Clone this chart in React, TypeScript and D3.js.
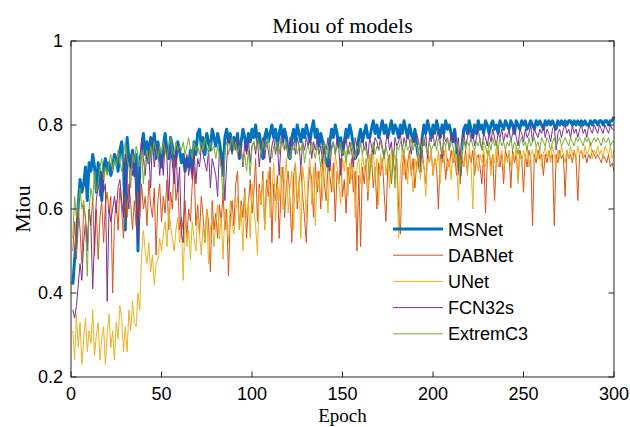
import * as d3 from "d3";

const msnet = [
  0.42, 0.48, 0.53, 0.61, 0.67, 0.64, 0.66, 0.70, 0.62, 0.71,
  0.69, 0.73, 0.70, 0.64, 0.71, 0.68, 0.62, 0.70, 0.72, 0.69,
  0.71, 0.68, 0.70, 0.73, 0.72, 0.69, 0.74, 0.76, 0.71, 0.55,
  0.77, 0.72, 0.70, 0.74, 0.68, 0.73, 0.50, 0.71, 0.74, 0.78,
  0.73, 0.76, 0.71, 0.77, 0.74, 0.78, 0.72, 0.76, 0.73, 0.70,
  0.75, 0.78, 0.74, 0.72, 0.77, 0.75, 0.70, 0.72, 0.76, 0.74,
  0.71, 0.73, 0.69, 0.72, 0.70, 0.74, 0.69, 0.76, 0.73, 0.78,
  0.79, 0.75, 0.77, 0.73, 0.78, 0.76, 0.74, 0.79, 0.77, 0.75,
  0.78, 0.76, 0.73, 0.68, 0.77, 0.79, 0.76, 0.78, 0.74, 0.77,
  0.75, 0.78, 0.72, 0.76, 0.79, 0.77, 0.74, 0.78, 0.76, 0.79,
  0.77, 0.80, 0.76, 0.78, 0.75, 0.72, 0.77, 0.79, 0.76, 0.78,
  0.80, 0.77, 0.79, 0.75, 0.78, 0.80, 0.76, 0.79, 0.77, 0.74,
  0.72, 0.77, 0.79, 0.76, 0.80, 0.78, 0.76, 0.79, 0.77, 0.80,
  0.78, 0.76, 0.79, 0.81, 0.77, 0.79, 0.75, 0.78, 0.76, 0.73,
  0.71, 0.70, 0.76, 0.79, 0.77, 0.80, 0.78, 0.75, 0.77, 0.73,
  0.76, 0.79, 0.77, 0.80, 0.78, 0.75, 0.72, 0.73, 0.77, 0.79,
  0.76, 0.78, 0.80, 0.77, 0.77, 0.79, 0.81, 0.78, 0.80, 0.77,
  0.79, 0.81, 0.78, 0.80, 0.77, 0.79, 0.81, 0.78, 0.80, 0.79,
  0.77, 0.80, 0.78, 0.81, 0.79, 0.77, 0.80, 0.78, 0.76, 0.79,
  0.75, 0.72, 0.69, 0.77, 0.80, 0.78, 0.81, 0.79, 0.77, 0.80,
  0.78, 0.81, 0.79, 0.77, 0.80, 0.78, 0.81, 0.79, 0.80, 0.78,
  0.76, 0.79, 0.74, 0.71, 0.68, 0.75, 0.79, 0.80, 0.78, 0.81,
  0.79, 0.77, 0.80, 0.78, 0.81, 0.79, 0.80, 0.78, 0.81, 0.80,
  0.78, 0.80, 0.81, 0.79, 0.80, 0.78, 0.81, 0.80, 0.79, 0.81,
  0.80, 0.79, 0.81, 0.80, 0.78, 0.81, 0.80, 0.79, 0.81, 0.80,
  0.81, 0.79, 0.80, 0.81, 0.80, 0.79, 0.81, 0.80, 0.81, 0.80,
  0.79, 0.81, 0.80, 0.81, 0.80, 0.81, 0.80, 0.79, 0.81, 0.80,
  0.81, 0.80, 0.81, 0.80, 0.81, 0.81, 0.80, 0.81, 0.80, 0.81,
  0.80, 0.81, 0.80, 0.81, 0.80, 0.80, 0.81, 0.80, 0.81, 0.81,
  0.80, 0.81, 0.81, 0.80, 0.81, 0.81, 0.80, 0.81, 0.81, 0.82,
];

const dabnet = [
  0.50, 0.57, 0.48, 0.60, 0.55, 0.47, 0.61, 0.58, 0.52, 0.60,
  0.56, 0.63, 0.49, 0.60, 0.48, 0.58, 0.62, 0.52, 0.61, 0.64,
  0.59, 0.63, 0.40, 0.57, 0.62, 0.55, 0.65, 0.60, 0.53, 0.63,
  0.58, 0.66, 0.61, 0.55, 0.62, 0.56, 0.64, 0.58, 0.66, 0.60,
  0.63, 0.56, 0.67, 0.61, 0.58, 0.65, 0.49, 0.62, 0.66, 0.57,
  0.63, 0.59, 0.67, 0.55, 0.64, 0.60, 0.72, 0.62, 0.66, 0.55,
  0.58, 0.55, 0.62, 0.53, 0.60, 0.57, 0.66, 0.70, 0.56, 0.61,
  0.54, 0.63, 0.58, 0.52, 0.60, 0.57, 0.45, 0.62, 0.55, 0.59,
  0.53, 0.61, 0.57, 0.64, 0.55, 0.60, 0.44, 0.58, 0.62, 0.56,
  0.66, 0.69, 0.55, 0.62, 0.58, 0.65, 0.53, 0.61, 0.67, 0.59,
  0.64, 0.72, 0.57, 0.66, 0.61, 0.69, 0.55, 0.67, 0.63, 0.70,
  0.52, 0.66, 0.62, 0.68, 0.53, 0.64, 0.70, 0.58, 0.66, 0.69,
  0.62, 0.52, 0.68, 0.71, 0.60, 0.66, 0.70, 0.63, 0.58, 0.52,
  0.65, 0.70, 0.67, 0.58, 0.71, 0.64, 0.69, 0.60, 0.72, 0.66,
  0.62, 0.70, 0.68, 0.64, 0.71, 0.57, 0.69, 0.66, 0.72, 0.63,
  0.67, 0.59, 0.70, 0.66, 0.72, 0.64, 0.69, 0.50, 0.68, 0.51,
  0.70, 0.66, 0.72, 0.62, 0.69, 0.73, 0.65, 0.70, 0.60, 0.71,
  0.68, 0.72, 0.64, 0.57, 0.70, 0.73, 0.66, 0.71, 0.69, 0.72,
  0.60, 0.54, 0.70, 0.73, 0.67, 0.71, 0.74, 0.68, 0.72, 0.65,
  0.71, 0.73, 0.69, 0.74, 0.70, 0.66, 0.73, 0.71, 0.74, 0.68,
  0.72, 0.70, 0.60, 0.73, 0.71, 0.74, 0.67, 0.72, 0.70, 0.74,
  0.71, 0.73, 0.68, 0.74, 0.66, 0.72, 0.70, 0.74, 0.69, 0.73,
  0.71, 0.74, 0.68, 0.72, 0.73, 0.70, 0.66, 0.73, 0.59, 0.72,
  0.74, 0.70, 0.73, 0.62, 0.72, 0.74, 0.70, 0.73, 0.66, 0.74,
  0.72, 0.73, 0.65, 0.74, 0.71, 0.73, 0.67, 0.74, 0.72, 0.64,
  0.73, 0.70, 0.74, 0.72, 0.56, 0.73, 0.71, 0.74, 0.72, 0.73,
  0.68, 0.73, 0.71, 0.74, 0.72, 0.73, 0.56, 0.73, 0.71, 0.74,
  0.72, 0.73, 0.63, 0.74, 0.72, 0.73, 0.71, 0.74, 0.72, 0.62,
  0.73, 0.74, 0.72, 0.73, 0.71, 0.73, 0.72, 0.74, 0.73, 0.72,
  0.73, 0.72, 0.71, 0.73, 0.72, 0.71, 0.73, 0.70, 0.71, 0.69,
];

const unet = [
  0.31, 0.24, 0.35, 0.27, 0.33, 0.23, 0.29, 0.34, 0.26, 0.31,
  0.28, 0.36, 0.25, 0.30, 0.33, 0.24, 0.29, 0.32, 0.23, 0.30,
  0.35, 0.27, 0.31, 0.24, 0.33, 0.29, 0.37, 0.34, 0.26, 0.32,
  0.26, 0.36, 0.31, 0.38, 0.33, 0.32, 0.40, 0.36, 0.49, 0.55,
  0.50, 0.47, 0.52, 0.45, 0.49, 0.42, 0.47, 0.48, 0.53, 0.50,
  0.54, 0.57, 0.51, 0.60, 0.56, 0.53, 0.50, 0.55, 0.58, 0.52,
  0.56, 0.43, 0.58, 0.51, 0.55, 0.48, 0.57, 0.53, 0.50, 0.59,
  0.54, 0.49, 0.56, 0.52, 0.60, 0.47, 0.55, 0.58, 0.51, 0.57,
  0.61, 0.53, 0.58, 0.48, 0.60, 0.56, 0.52, 0.62, 0.57, 0.54,
  0.59, 0.63, 0.55, 0.61, 0.50, 0.64, 0.58, 0.62, 0.53, 0.66,
  0.60, 0.56, 0.49, 0.65, 0.61, 0.67, 0.55, 0.63, 0.69, 0.58,
  0.64, 0.71, 0.57, 0.66, 0.62, 0.70, 0.60, 0.67, 0.72, 0.59,
  0.65, 0.69, 0.55, 0.71, 0.62, 0.67, 0.53, 0.70, 0.66, 0.58,
  0.68, 0.72, 0.61, 0.70, 0.56, 0.69, 0.65, 0.71, 0.62, 0.73,
  0.67, 0.59, 0.72, 0.69, 0.64, 0.73, 0.70, 0.66, 0.61, 0.72,
  0.69, 0.74, 0.63, 0.71, 0.67, 0.73, 0.58, 0.70, 0.72, 0.66,
  0.74, 0.69, 0.72, 0.64, 0.73, 0.70, 0.75, 0.67, 0.72, 0.61,
  0.73, 0.70, 0.74, 0.68, 0.72, 0.65, 0.74, 0.71, 0.73, 0.69,
  0.53, 0.70, 0.74, 0.68, 0.72, 0.66, 0.73, 0.70, 0.64, 0.72,
  0.69, 0.74, 0.67, 0.72, 0.70, 0.63, 0.73, 0.71, 0.74, 0.68,
  0.72, 0.70, 0.74, 0.66, 0.73, 0.71, 0.75, 0.69, 0.72, 0.67,
  0.74, 0.71, 0.73, 0.62, 0.72, 0.74, 0.70, 0.73, 0.68, 0.75,
  0.71, 0.60, 0.74, 0.72, 0.69, 0.73, 0.71, 0.75, 0.70, 0.72,
  0.74, 0.68, 0.73, 0.71, 0.75, 0.70, 0.72, 0.74, 0.69, 0.73,
  0.71, 0.74, 0.70, 0.73, 0.72, 0.75, 0.66, 0.73, 0.71, 0.74,
  0.72, 0.75, 0.70, 0.73, 0.74, 0.71, 0.75, 0.72, 0.74, 0.70,
  0.73, 0.75, 0.72, 0.74, 0.71, 0.75, 0.73, 0.70, 0.74, 0.72,
  0.75, 0.73, 0.71, 0.74, 0.72, 0.75, 0.73, 0.74, 0.71, 0.75,
  0.73, 0.74, 0.72, 0.75, 0.73, 0.74, 0.76, 0.72, 0.74, 0.73,
  0.75, 0.73, 0.74, 0.72, 0.75, 0.74, 0.73, 0.75, 0.72, 0.74,
];

const fcn32s = [
  0.36, 0.34, 0.37, 0.42, 0.47, 0.43, 0.52, 0.57, 0.50, 0.60,
  0.56, 0.41, 0.53, 0.62, 0.66, 0.63, 0.69, 0.64, 0.66, 0.38,
  0.60, 0.57, 0.60, 0.63, 0.59, 0.65, 0.67, 0.62, 0.58, 0.73,
  0.64, 0.60, 0.73, 0.68, 0.71, 0.62, 0.52, 0.70, 0.77, 0.72,
  0.68, 0.74, 0.73, 0.65, 0.77, 0.70, 0.74, 0.75, 0.68, 0.73,
  0.68, 0.76, 0.72, 0.62, 0.74, 0.71, 0.66, 0.75, 0.64, 0.70,
  0.54, 0.52, 0.70, 0.73, 0.68, 0.71, 0.67, 0.74, 0.66, 0.72,
  0.70, 0.75, 0.73, 0.71, 0.69, 0.74, 0.65, 0.72, 0.70, 0.68,
  0.63, 0.74, 0.70, 0.72, 0.62, 0.71, 0.77, 0.75, 0.73, 0.76,
  0.74, 0.77, 0.72, 0.75, 0.70, 0.76, 0.73, 0.77, 0.71, 0.75,
  0.76, 0.73, 0.77, 0.70, 0.75, 0.77, 0.72, 0.76, 0.74, 0.71,
  0.75, 0.77, 0.73, 0.76, 0.68, 0.75, 0.78, 0.74, 0.76, 0.72,
  0.77, 0.74, 0.76, 0.73, 0.77, 0.75, 0.70, 0.76, 0.74, 0.77,
  0.75, 0.77, 0.72, 0.76, 0.74, 0.77, 0.73, 0.75, 0.71, 0.76,
  0.74, 0.77, 0.69, 0.75, 0.76, 0.73, 0.77, 0.74, 0.68, 0.76,
  0.75, 0.77, 0.73, 0.76, 0.74, 0.70, 0.77, 0.75, 0.73, 0.76,
  0.77, 0.74, 0.76, 0.72, 0.77, 0.75, 0.73, 0.77, 0.76, 0.74,
  0.77, 0.75, 0.72, 0.76, 0.78, 0.74, 0.76, 0.71, 0.77, 0.75,
  0.76, 0.78, 0.74, 0.77, 0.75, 0.78, 0.76, 0.73, 0.77, 0.75,
  0.78, 0.76, 0.74, 0.77, 0.75, 0.78, 0.72, 0.77, 0.76, 0.78,
  0.75, 0.77, 0.79, 0.76, 0.72, 0.78, 0.76, 0.77, 0.74, 0.78,
  0.76, 0.78, 0.74, 0.77, 0.71, 0.76, 0.78, 0.75, 0.77, 0.79,
  0.76, 0.78, 0.75, 0.77, 0.79, 0.76, 0.74, 0.78, 0.77, 0.75,
  0.78, 0.76, 0.79, 0.77, 0.75, 0.78, 0.77, 0.79, 0.76, 0.78,
  0.77, 0.79, 0.76, 0.78, 0.80, 0.77, 0.75, 0.79, 0.78, 0.76,
  0.79, 0.77, 0.78, 0.80, 0.76, 0.79, 0.78, 0.77, 0.79, 0.78,
  0.80, 0.77, 0.79, 0.78, 0.76, 0.79, 0.80, 0.74, 0.78, 0.79,
  0.77, 0.79, 0.80, 0.78, 0.79, 0.77, 0.80, 0.78, 0.79, 0.77,
  0.79, 0.80, 0.78, 0.79, 0.77, 0.80, 0.79, 0.78, 0.80, 0.79,
  0.78, 0.80, 0.79, 0.78, 0.80, 0.79, 0.78, 0.80, 0.79, 0.79,
];

const extremc3 = [
  0.53, 0.63, 0.58, 0.61, 0.65, 0.60, 0.62, 0.57, 0.44, 0.60,
  0.65, 0.62, 0.69, 0.64, 0.66, 0.70, 0.72, 0.67, 0.70, 0.68,
  0.71, 0.73, 0.69, 0.72, 0.70, 0.74, 0.71, 0.69, 0.73, 0.76,
  0.72, 0.70, 0.65, 0.73, 0.71, 0.75, 0.73, 0.70, 0.74, 0.66,
  0.72, 0.74, 0.71, 0.75, 0.73, 0.76, 0.74, 0.72, 0.75, 0.73,
  0.76, 0.74, 0.72, 0.75, 0.77, 0.74, 0.73, 0.76, 0.74, 0.75,
  0.74, 0.76, 0.73, 0.75, 0.77, 0.74, 0.72, 0.76, 0.74, 0.75,
  0.73, 0.76, 0.74, 0.77, 0.75, 0.73, 0.76, 0.74, 0.75, 0.72,
  0.75, 0.73, 0.70, 0.63, 0.74, 0.76, 0.73, 0.75, 0.77, 0.74,
  0.76, 0.73, 0.75, 0.74, 0.71, 0.73, 0.69, 0.74, 0.68, 0.75,
  0.76, 0.74, 0.77, 0.75, 0.73, 0.76, 0.74, 0.75, 0.77, 0.73,
  0.72, 0.75, 0.74, 0.76, 0.73, 0.77, 0.75, 0.74, 0.76, 0.73,
  0.72, 0.75, 0.74, 0.76, 0.73, 0.75, 0.74, 0.76, 0.71, 0.74,
  0.75, 0.73, 0.76, 0.74, 0.72, 0.75, 0.73, 0.70, 0.74, 0.76,
  0.73, 0.75, 0.72, 0.74, 0.76, 0.73, 0.75, 0.74, 0.76, 0.73,
  0.74, 0.71, 0.75, 0.73, 0.76, 0.74, 0.72, 0.75, 0.74, 0.76,
  0.73, 0.75, 0.74, 0.72, 0.67, 0.74, 0.76, 0.73, 0.75, 0.74,
  0.76, 0.74, 0.72, 0.75, 0.73, 0.70, 0.67, 0.74, 0.65, 0.75,
  0.74, 0.76, 0.75, 0.73, 0.76, 0.74, 0.75, 0.77, 0.74, 0.76,
  0.75, 0.73, 0.76, 0.74, 0.77, 0.75, 0.73, 0.76, 0.74, 0.75,
  0.76, 0.74, 0.77, 0.75, 0.73, 0.76, 0.75, 0.77, 0.74, 0.76,
  0.75, 0.73, 0.76, 0.74, 0.70, 0.75, 0.77, 0.74, 0.76, 0.75,
  0.77, 0.75, 0.74, 0.76, 0.75, 0.77, 0.74, 0.76, 0.75, 0.73,
  0.76, 0.74, 0.77, 0.75, 0.76, 0.74, 0.77, 0.75, 0.76, 0.74,
  0.76, 0.75, 0.77, 0.74, 0.76, 0.75, 0.73, 0.76, 0.77, 0.75,
  0.76, 0.74, 0.77, 0.75, 0.76, 0.77, 0.75, 0.76, 0.74, 0.77,
  0.76, 0.75, 0.77, 0.76, 0.74, 0.76, 0.77, 0.75, 0.76, 0.77,
  0.75, 0.76, 0.77, 0.76, 0.75, 0.77, 0.76, 0.75, 0.77, 0.76,
  0.77, 0.76, 0.75, 0.77, 0.76, 0.77, 0.75, 0.76, 0.77, 0.76,
  0.77, 0.76, 0.75, 0.77, 0.76, 0.76, 0.77, 0.75, 0.76, 0.76,
];

const seriesNames = ["MSNet", "DABNet", "UNet", "FCN32s", "ExtremC3"];
const seriesValues = [msnet, dabnet, unet, fcn32s, extremc3];
const seriesColors = ["#0072BD", "#D95319", "#EDB120", "#7E2F8E", "#77AC30"];
const seriesWidths = [3, 1, 1, 1, 1];

const xTicks = [0, 50, 100, 150, 200, 250, 300];
const yTicks = [0.2, 0.4, 0.6, 0.8, 1];

const W = 630;
const H = 427;
const margin = { top: 41, right: 16, bottom: 50, left: 71 };
const sans = "'Liberation Sans', Arial, sans-serif";
const serif = "'Liberation Serif', 'Times New Roman', serif";
const axisColor = "#262626";

export default function App() {
  const x = d3.scaleLinear().domain([0, 300]).range([margin.left, W - margin.right]);
  const y = d3.scaleLinear().domain([0.2, 1]).range([H - margin.bottom, margin.top]);

  const line = d3
    .line<number>()
    .x((_, i) => x(i + 1))
    .y((d) => y(d));

  const x0 = x.range()[0];
  const x1 = x.range()[1];
  const yb = y.range()[0];
  const yt = y.range()[1];
  const tickLen = 5.5;

  // legend
  const legX = 393;
  const legY = 229;
  const legStep = 26.2;

  return (
    <div style={{ position: "absolute", left: 0, top: 0 }}>
      <svg width={W} height={H} style={{ display: "block", background: "#fff" }}>
        {seriesValues.map((vals, k) => (
          <path
            key={seriesNames[k]}
            d={line(vals) ?? ""}
            fill="none"
            stroke={seriesColors[k]}
            strokeWidth={seriesWidths[k]}
            strokeLinejoin="round"
          />
        ))}

        {/* axes box */}
        <rect x={x0} y={yt} width={x1 - x0} height={yb - yt} fill="none" stroke={axisColor} strokeWidth={1} />

        {xTicks.map((t) => (
          <g key={"x" + t}>
            <line x1={x(t)} x2={x(t)} y1={yb} y2={yb - tickLen} stroke={axisColor} />
            <line x1={x(t)} x2={x(t)} y1={yt} y2={yt + tickLen} stroke={axisColor} />
            <text x={x(t)} y={yb + 23} textAnchor="middle" fontFamily={sans} fontSize={18} fill="#000">
              {t}
            </text>
          </g>
        ))}

        {yTicks.map((t) => (
          <g key={"y" + t}>
            <line x1={x0} x2={x0 + tickLen} y1={y(t)} y2={y(t)} stroke={axisColor} />
            <line x1={x1} x2={x1 - tickLen} y1={y(t)} y2={y(t)} stroke={axisColor} />
            <text x={x0 - 8} y={y(t) + 6} textAnchor="end" fontFamily={sans} fontSize={18} fill="#000">
              {t}
            </text>
          </g>
        ))}

        <text x={(x0 + x1) / 2} y={33} textAnchor="middle" fontFamily={serif} fontSize={22} fill="#000">
          Miou of models
        </text>
        <text x={(x0 + x1) / 2} y={422} textAnchor="middle" fontFamily={serif} fontSize={19} fill="#000">
          Epoch
        </text>
        <text
          transform={`translate(30,${(yt + yb) / 2}) rotate(-90)`}
          textAnchor="middle"
          fontFamily={serif}
          fontSize={22}
          fill="#000"
        >
          Miou
        </text>

        {seriesNames.map((name, k) => (
          <g key={"leg" + name} transform={`translate(${legX},${legY + k * legStep})`}>
            <line x1={0} x2={50} y1={0} y2={0} stroke={seriesColors[k]} strokeWidth={seriesWidths[k]} />
            <text x={55} y={6.5} fontFamily={sans} fontSize={18} fill="#000">
              {name}
            </text>
          </g>
        ))}
      </svg>
    </div>
  );
}
